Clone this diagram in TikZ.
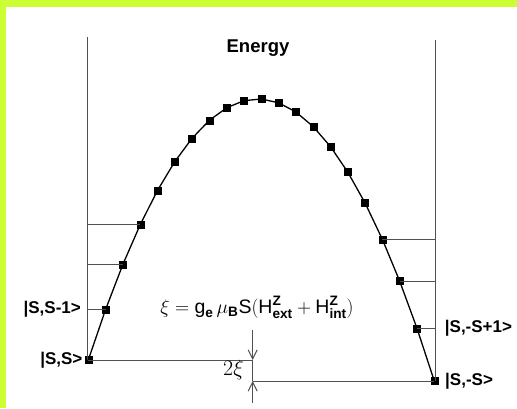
\RequirePackage{fix-cm}
\documentclass[tikz,border=0pt]{standalone}
\usepackage{amsmath}
\usepackage{fontspec}
\setmainfont{Liberation Sans}
\usepackage{tikz}
\usetikzlibrary{arrows.meta}
\definecolor{frame}{RGB}{204, 255, 51}
\definecolor{thinline}{RGB}{80, 80, 80}

\begin{document}
\begin{tikzpicture}[x=1pt, y=-1pt,
   state/.style={rectangle, draw=black, fill=black, inner sep=0,
                 minimum size=7},
   level/.style={draw=thinline, line width=1},
   curve/.style={draw=black, line width=1.3},
   ketlbl/.style={font=\fontsize{17}{17}\selectfont\bfseries, inner sep=0}
  ]
  \useasboundingbox (0, 0) rectangle (517, 408);
  \fill[frame] (0, 0) rectangle (517, 408);
  \fill[white] (6, 7) rectangle (517, 408);

  % axes
  \coordinate (LT) at (87, 37);
  \coordinate (RT) at (435.7, 40);
  \coordinate (A1) at (252.7, 330);
  \coordinate (A2) at (252.7, 403);

  % states m = S ... -S
  \foreach \i in {0,...,20} {
    \pgfmathsetmacro{\px}{88.3 + 17.3 * \i}
    \pgfmathsetmacro{\py}{360 - 53.25 * \i + 2.715 * \i * \i}
    \node (p\i) at (\px, \py) [state] {};
  }

  \draw[level] (LT) -- (LT |- p0);
  \draw[level] (RT) -- (RT |- p20);

  \foreach \B/\E in {p0/p1, p1/p2, p2/p3, p3/p4, p4/p5, p5/p6, p6/p7, p7/p8,
                     p8/p9, p9/p10, p10/p11, p11/p12, p12/p13, p13/p14,
                     p14/p15, p15/p16, p16/p17, p17/p18, p18/p19, p19/p20} {
    \draw[curve] (\B.center) -- (\E.center);
  }

  \foreach \P in {p1, p2, p3} {
    \draw[level] (\P.center) -- (\P -| LT);
  }
  \foreach \P in {p17, p18, p19} {
    \draw[level] (\P.center) -- (\P -| RT);
  }

  % splitting
  \draw[level] (p0.center) -- (A1 |- p0);
  \draw[level] (p20.center) -- (A2 |- p20);
  \draw[level, -{Straight Barb[length=9, width=9]}] (A1) -- (A1 |- p0);
  \draw[level] (A1 |- p0) -- (A2 |- p20);
  \draw[level, -{Straight Barb[length=9, width=9]}] (A2) -- (A2 |- p20);

  \node (E) at (258, 48) [font=\fontsize{18.5}{18.5}\selectfont\bfseries] {Energy};
  \node (SS) at ([xshift=-2]p0.west) [ketlbl, anchor=east] {|S,S>};
  \node (SS1) at ([xshift=-6]p1 -| LT) [ketlbl, anchor=east] {|S,S-1>};
  \node (SmS1) at ([xshift=9]p19 -| RT) [ketlbl, anchor=west] {|S,-S+1>};
  \node (SmS) at ([xshift=7]p20.east) [ketlbl, anchor=west] {|S,-S>};
  \node (xi) at (257, 307) [font=\fontsize{19.5}{19.5}\selectfont]
    {$\xi = \text{g}_{\textbf{e}}\,\mu_{\textbf{B}}\text{S}(\text{H}^{\textbf{Z}}_{\textbf{ext}} + \text{H}^{\textbf{Z}}_{\textbf{int}})$};
  \node (gap) at (233.5, 370) [font=\fontsize{22}{22}\selectfont] {$2\xi$};
\end{tikzpicture}
\end{document}
